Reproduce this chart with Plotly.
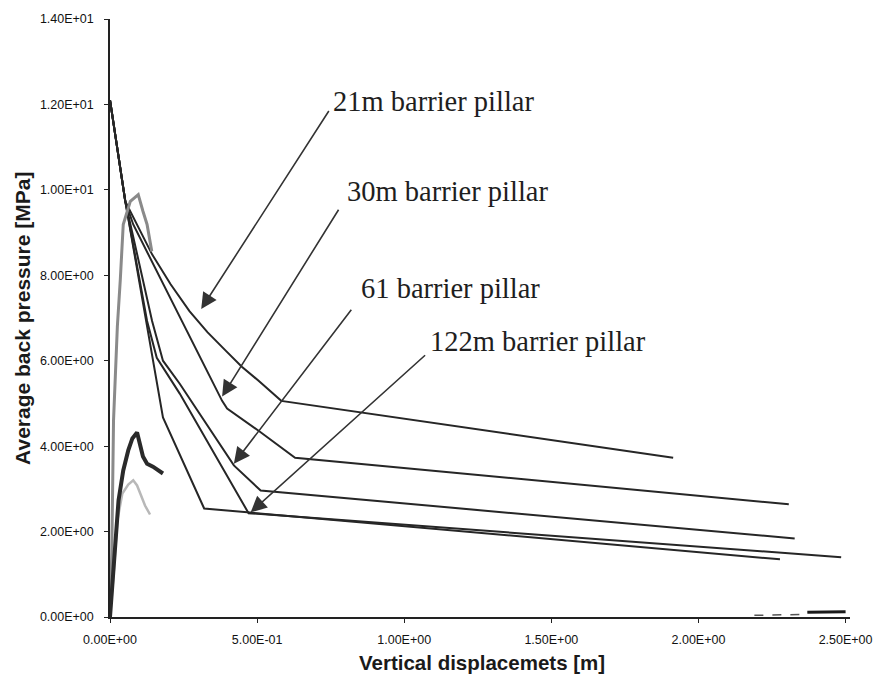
import plotly.graph_objects as go

# Average back pressure vs vertical displacement for several barrier pillar widths
x_21m = [0.0, 0.052, 0.143, 0.206, 0.270, 0.331, 0.394, 0.448, 0.505, 0.582, 1.914]
y_21m = [12.1, 9.73, 8.49, 7.79, 7.16, 6.67, 6.23, 5.86, 5.53, 5.06, 3.73]

x_30m = [0.0, 0.052, 0.079, 0.193, 0.294, 0.381, 0.398, 0.505, 0.629, 2.307]
y_30m = [12.1, 9.73, 9.19, 7.63, 6.23, 5.06, 4.88, 4.36, 3.73, 2.64]

x_61m = [0.0, 0.052, 0.143, 0.180, 0.237, 0.421, 0.512, 2.327]
y_61m = [12.1, 9.73, 6.93, 6.00, 5.46, 3.55, 2.96, 1.84]

x_122m = [0.0, 0.052, 0.126, 0.159, 0.237, 0.471, 2.485]
y_122m = [12.1, 9.73, 6.93, 6.07, 5.23, 2.43, 1.40]

x_case5 = [0.0, 0.052, 0.180, 0.320, 2.277]
y_case5 = [12.1, 9.73, 4.67, 2.54, 1.35]

# short loading curves near the origin
x_gray = [0.0, 0.006, 0.012, 0.025, 0.035, 0.045, 0.069, 0.096, 0.112, 0.126, 0.142]
y_gray = [0.0, 1.5, 4.6, 6.8, 7.9, 9.19, 9.73, 9.89, 9.5, 9.19, 8.56]

x_dark = [0.0, 0.015, 0.029, 0.045, 0.062, 0.076, 0.092, 0.112, 0.126, 0.146, 0.180]
y_dark = [0.0, 1.33, 2.73, 3.43, 3.90, 4.18, 4.32, 3.76, 3.59, 3.52, 3.36]

x_light = [0.0, 0.012, 0.025, 0.042, 0.062, 0.079, 0.092, 0.106, 0.119, 0.136]
y_light = [0.0, 0.98, 2.26, 2.89, 3.10, 3.20, 3.08, 2.85, 2.61, 2.40]

# residual traces along the displacement axis
x_tail_dash = [2.19, 2.36]
y_tail_dash = [0.04, 0.06]
x_tail_solid = [2.37, 2.50]
y_tail_solid = [0.11, 0.12]

x_tickvals = [0.0, 0.5, 1.0, 1.5, 2.0, 2.5]
x_ticktext = ["0.00E+00", "5.00E-01", "1.00E+00", "1.50E+00", "2.00E+00", "2.50E+00"]
y_tickvals = [0, 2, 4, 6, 8, 10, 12, 14]
y_ticktext = ["0.00E+00", "2.00E+00", "4.00E+00", "6.00E+00",
              "8.00E+00", "1.00E+01", "1.20E+01", "1.40E+01"]

# label text, arrow tip and arrow tail (data units)
labels = ["21m barrier pillar", "30m barrier pillar", "61 barrier pillar", "122m barrier pillar"]
label_x = [0.750, 0.800, 0.847, 1.082]
label_y = [12.07, 9.97, 7.68, 6.46]
tip_x = [0.310, 0.381, 0.421, 0.478]
tip_y = [7.21, 5.16, 3.59, 2.45]
tail_x = [0.747, 0.780, 0.824, 1.076]
tail_y = [11.88, 9.57, 7.23, 6.16]

fig = go.Figure()

black = "#262626"
for name, xs, ys in [("21m", x_21m, y_21m), ("30m", x_30m, y_30m),
                     ("61m", x_61m, y_61m), ("122m", x_122m, y_122m),
                     ("case 5", x_case5, y_case5)]:
    fig.add_trace(go.Scatter(x=xs, y=ys, mode="lines", name=name,
                             line=dict(color=black, width=2)))

fig.add_trace(go.Scatter(x=x_gray, y=y_gray, mode="lines", name="gray",
                         line=dict(color="#8a8a8a", width=3)))
fig.add_trace(go.Scatter(x=x_light, y=y_light, mode="lines", name="light",
                         line=dict(color="#b8b8b8", width=2.5)))
fig.add_trace(go.Scatter(x=x_dark, y=y_dark, mode="lines", name="dark",
                         line=dict(color="#2a2a2a", width=4)))
fig.add_trace(go.Scatter(x=x_tail_dash, y=y_tail_dash, mode="lines", name="tail a",
                         line=dict(color="#555555", width=1.5, dash="dash")))
fig.add_trace(go.Scatter(x=x_tail_solid, y=y_tail_solid, mode="lines", name="tail b",
                         line=dict(color="#1a1a1a", width=3)))

annotations = []
for t, lx, ly, px, py, qx, qy in zip(labels, label_x, label_y, tip_x, tip_y, tail_x, tail_y):
    annotations.append(dict(
        x=px, y=py, ax=qx, ay=qy, xref="x", yref="y", axref="x", ayref="y",
        text="", showarrow=True, arrowhead=2, arrowsize=2.0, arrowwidth=1.6,
        arrowcolor="#333333", standoff=0, startstandoff=0))
    annotations.append(dict(
        x=lx, y=ly, xref="x", yref="y", text=t, showarrow=False,
        xanchor="left", yanchor="middle",
        font=dict(family="Liberation Serif, Times New Roman, serif", size=28.5, color="#1e1e1e")))

annotations.append(dict(
    x=-0.119, y=0.5, xref="paper", yref="paper", text="<b>Average back pressure [MPa]</b>",
    textangle=-90, showarrow=False, xanchor="center", yanchor="middle",
    font=dict(family="Arial, Liberation Sans, sans-serif", size=21, color="#1a1a1a")))
annotations.append(dict(
    x=0.503, y=-0.0767, xref="paper", yref="paper", text="<b>Vertical displacemets [m]</b>",
    showarrow=False, xanchor="center", yanchor="middle",
    font=dict(family="Arial, Liberation Sans, sans-serif", size=20.5, color="#1a1a1a")))

tick_font = dict(family="Arial, Liberation Sans, sans-serif", size=12.5, color="#111111")

fig.update_layout(
    width=885, height=681,
    margin=dict(l=110, r=26, t=17, b=64),
    paper_bgcolor="white", plot_bgcolor="white",
    showlegend=False,
    annotations=annotations,
    xaxis=dict(range=[0, 2.515], tickvals=x_tickvals, ticktext=x_ticktext,
               showline=True, linecolor="#222222", linewidth=1.5, showgrid=False,
               zeroline=False, ticks="outside", ticklen=4, tickcolor="#222222",
               tickfont=tick_font, ticklabelstandoff=6),
    yaxis=dict(range=[0, 14], tickvals=y_tickvals, ticktext=y_ticktext,
               showline=True, linecolor="#222222", linewidth=1.5, showgrid=False,
               zeroline=False, ticks="outside", ticklen=4, tickcolor="#222222",
               tickfont=tick_font, ticklabelstandoff=8),
)

fig.write_html("out.html")
